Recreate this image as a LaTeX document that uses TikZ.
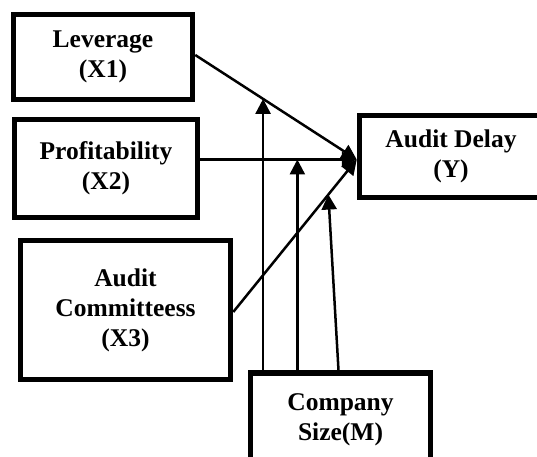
\documentclass[tikz,border=0pt]{standalone}
\usepackage{fontspec}
\setmainfont{Liberation Serif}
\usetikzlibrary{arrows.meta,calc}
\begin{document}
\begin{tikzpicture}[x=1bp,y=-1bp,
  varbox/.style={draw,line width=5.5bp,align=center,inner sep=0pt,
    font=\fontsize{25.5bp}{30bp}\selectfont\bfseries},
  link/.style={line width=2.5bp,-{Triangle[width=15bp,length=15bp]}}]
\clip (0,0) rectangle (537,457);
\fill[white] (0,0) rectangle (537,457);
\node[varbox,minimum width=179bp,minimum height=85bp] (x1) at (103,57) {Leverage\\(X1)};
\node[varbox,minimum width=183bp,minimum height=98bp] (x2) at (106,168.5) {Profitability\\(X2)};
\node[varbox,minimum width=210bp,minimum height=139bp] (x3) at (125.5,310) {Audit\\Committeess\\(X3)};
\node[varbox,minimum width=183bp,minimum height=82bp] (y) at (451,156.5) {Audit Delay\\(Y)};
\node[varbox,minimum width=180bp,minimum height=94bp] (m) at (340.5,420) {Company\\Size(M)};
\coordinate (t) at ([yshift=-3bp]y.west);
\draw[link] ([yshift=2bp]x1.east) -- (t);
\draw[link] ([xshift=-4bp]x2.east |- t) -- (t);
\draw[link] ([yshift=-2bp]x3.east) -- (t);
\coordinate (p1) at ($([yshift=2bp]x1.east)!0.42!(t)$);
\coordinate (p2) at ($([xshift=-4bp]x2.east |- t)!0.63!(t)$);
\coordinate (p3) at ($([yshift=-2bp]x3.east)!0.77!(t)$);
\draw[link] (m.north -| p1) -- (p1);
\draw[link] (m.north -| p2) -- (p2);
\draw[link] ([xshift=-2bp]m.north) -- (p3);
\end{tikzpicture}
\end{document}
